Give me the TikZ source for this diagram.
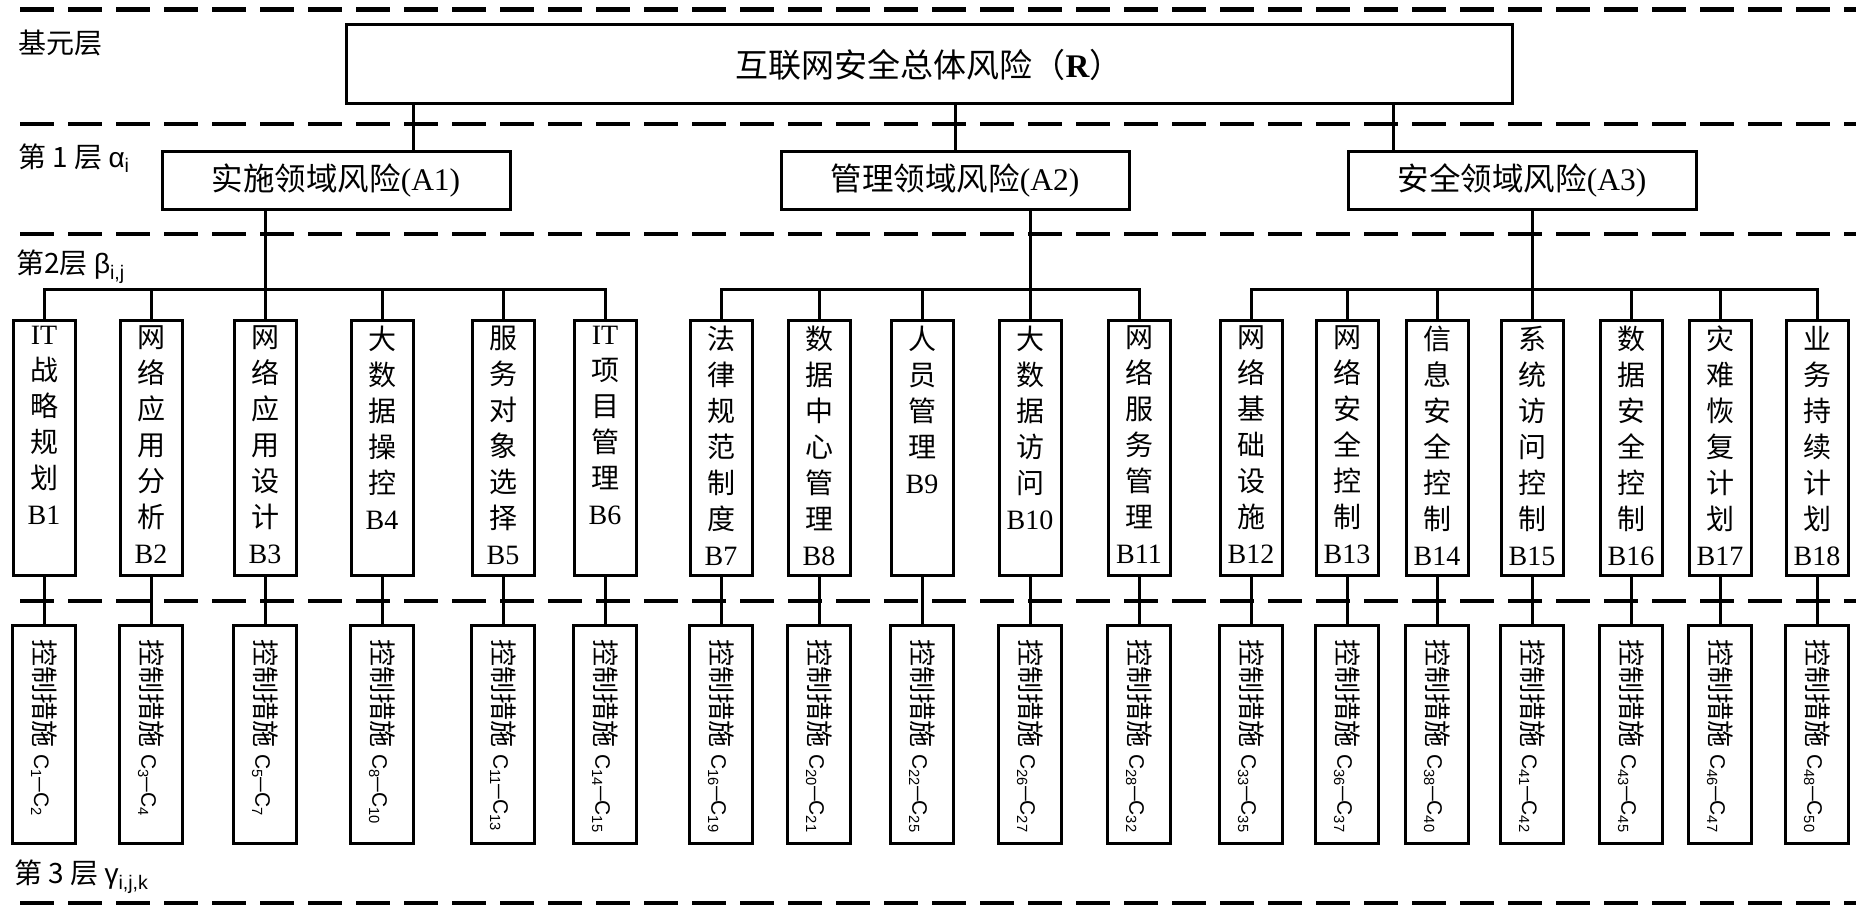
\documentclass[tikz,border=0pt]{standalone}
\usepackage{fontspec}
\usepackage{graphicx}
\setmainfont{Noto Sans CJK SC}
\newfontfamily\tnr{Liberation Serif}
\newfontfamily\arial{Liberation Sans}
\usepackage{tikz}
\usetikzlibrary{positioning,calc}

% vertical text of a B box, and rotated text of a C box
\newcommand{\bcol}[1]{\parbox[c][243pt][t]{56pt}{\centering\fontsize{28}{36}\selectfont #1}}
\newcommand{\ccol}[2]{\rotatebox{-90}{\makebox[190pt][l]{\fontsize{27}{30}\selectfont 控制措施\hspace{7pt}{\arial\fontsize{21}{24}\selectfont C\textsubscript{#1}\scalebox{0.7}[1]{—}C\textsubscript{#2}}}}}

\begin{document}
\begin{tikzpicture}[x=1pt, y=-1pt,
    rootbox/.style={draw, line width=3pt, minimum width=1166pt, minimum height=79pt, inner sep=0pt, font=\fontsize{33}{36}\selectfont},
    areabox/.style={draw, line width=3pt, minimum width=348pt, minimum height=57pt, inner sep=0pt, font=\fontsize{31.5}{34}\selectfont},
    itembox/.style={draw, line width=3pt, minimum width=62pt, minimum height=255pt, inner sep=0pt},
    ctrlbox/.style={draw, line width=3pt, minimum width=63pt, minimum height=218pt, inner sep=0pt},
    layer/.style={anchor=west, inner sep=0pt, font=\fontsize{28}{32}\selectfont},
    level/.style={line width=4.5pt, dash pattern=on 34pt off 14pt},
    edge/.style={line width=3pt}
]
    \useasboundingbox (0,0) rectangle (1866,915);

    % layer separators
    \foreach \y in {9.5,124,234,601,903}
        \draw[level] (20,\y) -- (1856,\y);

    % layer labels
    \node[layer] (L0) at (18,43) {基元层};
    \node[layer] (L1) at (18,158) {第 1 层 {\arial α\textsubscript{i}}};
    \node[layer] (L2) at (16,267) {第2层 {\arial β\textsubscript{i,j}}};
    \node[layer] (L3) at (14,877) {第 3 层 {\arial γ\textsubscript{i,j,k}}};

    % top and areas
    \node[rootbox] (R) at (929,64.5) {互联网安全总体风险（{\tnr\bfseries R}）};
    \node[areabox] (A1) at (336,180.5) {实施领域风险{\tnr (A1)}};
    \node[areabox] (A2) at (955,180.5) {管理领域风险{\tnr (A2)}};
    \node[areabox] (A3) at (1522,180.5) {安全领域风险{\tnr (A3)}};

    \coordinate (ra1) at ([xshift=77pt]A1.north);
    \coordinate (ra3) at ([xshift=-129pt]A3.north);
    \draw[edge] (ra1) -- (ra1 |- R.south);
    \draw[edge] (A2.north) -- (A2.north |- R.south);
    \draw[edge] (ra3) -- (ra3 |- R.south);

    % B and C boxes
    \foreach \n/\x/\lab/\a/\b in {
        1/44/{{\tnr IT}\\战\\略\\规\\划\\{\tnr B1}}/1/2,
        2/151/{网\\络\\应\\用\\分\\析\\{\tnr B2}}/3/4,
        3/265/{网\\络\\应\\用\\设\\计\\{\tnr B3}}/5/7,
        4/382/{大\\数\\据\\操\\控\\{\tnr B4}}/8/10,
        5/503/{服\\务\\对\\象\\选\\择\\{\tnr B5}}/11/13,
        6/605/{{\tnr IT}\\项\\目\\管\\理\\{\tnr B6}}/14/15,
        7/721/{法\\律\\规\\范\\制\\度\\{\tnr B7}}/16/19,
        8/819/{数\\据\\中\\心\\管\\理\\{\tnr B8}}/20/21,
        9/922/{人\\员\\管\\理\\{\tnr B9}}/22/25,
        10/1030/{大\\数\\据\\访\\问\\{\tnr B10}}/26/27,
        11/1139/{网\\络\\服\\务\\管\\理\\{\tnr B11}}/28/32,
        12/1251/{网\\络\\基\\础\\设\\施\\{\tnr B12}}/33/35,
        13/1347/{网\\络\\安\\全\\控\\制\\{\tnr B13}}/36/37,
        14/1437/{信\\息\\安\\全\\控\\制\\{\tnr B14}}/38/40,
        15/1532/{系\\统\\访\\问\\控\\制\\{\tnr B15}}/41/42,
        16/1631/{数\\据\\安\\全\\控\\制\\{\tnr B16}}/43/45,
        17/1720/{灾\\难\\恢\\复\\计\\划\\{\tnr B17}}/46/47,
        18/1817/{业\\务\\持\\续\\计\\划\\{\tnr B18}}/48/50} {
        \node[itembox] (B\n) at (\x,447.5) {\bcol{\lab}};
        \node[ctrlbox] (C\n) at (\x,734) {\ccol{\a}{\b}};
        \draw[edge] (B\n.south) -- (C\n.north);
    }

    % area to item buses
    \draw[edge] (B3.north |- A1.south) -- (B3.north);
    \draw[edge] (B1.north) -- ++(0,-29) -| (B6.north);
    \foreach \n in {2,4,5}
        \draw[edge] (B\n.north) -- ++(0,-29);

    \draw[edge] (B10.north |- A2.south) -- (B10.north);
    \draw[edge] (B7.north) -- ++(0,-29) -| (B11.north);
    \foreach \n in {8,9}
        \draw[edge] (B\n.north) -- ++(0,-29);

    \draw[edge] (B15.north |- A3.south) -- (B15.north);
    \draw[edge] (B12.north) -- ++(0,-29) -| (B18.north);
    \foreach \n in {13,14,16,17}
        \draw[edge] (B\n.north) -- ++(0,-29);
\end{tikzpicture}
\end{document}
